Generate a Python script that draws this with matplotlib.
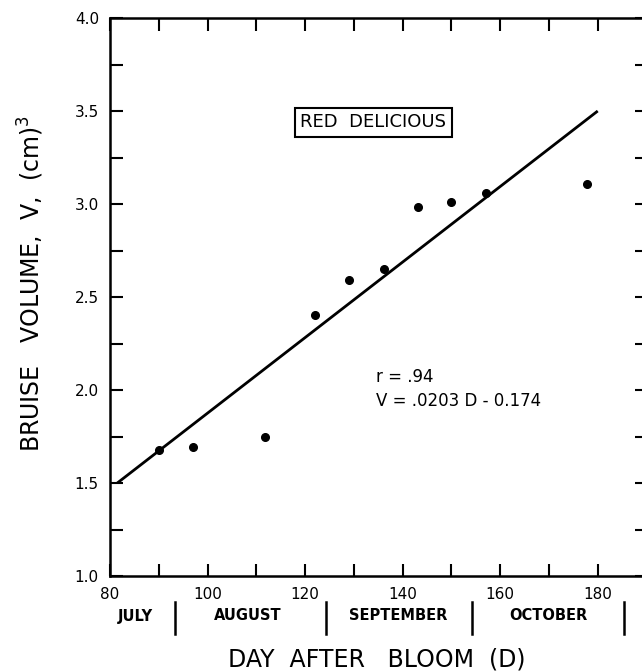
import matplotlib
matplotlib.use("Agg")
import matplotlib.pyplot as plt
import matplotlib.transforms as mtransforms
import numpy as np

# ---- data ----
days = [90.1, 97.0, 111.7, 122.0, 129.0, 136.1, 143.1, 150.0, 157.1, 177.9]
volume = [1.677, 1.695, 1.747, 2.403, 2.591, 2.649, 2.984, 3.009, 3.061, 3.108]

fit_days = [81.5, 180.0]
fit_volume = [1.50, 3.50]

x_major = [80, 100, 120, 140, 160, 180]
x_major_labels = ["80", "100", "120", "140", "160", "180"]
y_major = [1.0, 1.5, 2.0, 2.5, 3.0, 3.5, 4.0]
y_major_labels = ["1.0", "1.5", "2.0", "2.5", "3.0", "3.5", "4.0"]

months = ["JULY", "AUGUST", "SEPTEMBER", "OCTOBER"]
month_centers = [85.3, 108.2, 139.0, 169.9]
month_dividers = [93.3, 124.3, 154.3, 185.3]

variety = "RED  DELICIOUS"
r_text = "r = .94"
eq_text = "V = .0203 D - 0.174"

# ---- figure ----
W, H = 642, 671
fig = plt.figure(figsize=(W / 100, H / 100), dpi=100)
ax = fig.add_axes([110 / W, 1 - 576 / H, (646.5 - 110) / W, (576 - 18) / H])

ax.set_xlim(80, 190)
ax.set_ylim(1.0, 4.0)

ax.plot(fit_days, fit_volume, color="black", lw=2.0, solid_capstyle="butt")
ax.plot(days, volume, "o", color="black", ms=5.5)

for s in ax.spines.values():
    s.set_linewidth(1.8)

ax.set_xticks(x_major)
ax.set_xticklabels(x_major_labels)
ax.set_xticks(np.arange(90, 190, 20), minor=True)
ax.set_yticks(y_major)
ax.set_yticklabels(y_major_labels)
ax.set_yticks(np.arange(1.25, 4.0, 0.5), minor=True)

ax.tick_params(which="both", direction="in", length=9, width=1.5,
               top=True, right=True, labelsize=11, pad=8)

# annotation box
ax.text(134, 3.44, variety, fontsize=13, ha="center", va="center",
        bbox=dict(boxstyle="square,pad=0.3", fc="white", ec="black", lw=1.5))
ax.text(134.5, 2.07, r_text, fontsize=12, ha="left", va="center")
ax.text(134.5, 1.94, eq_text, fontsize=12, ha="left", va="center")

# month row below axis
trans = mtransforms.blended_transform_factory(ax.transData, fig.transFigure)
for name, c in zip(months, month_centers):
    ax.text(c, 1 - 616 / H, name, transform=trans, fontsize=10.5,
            fontweight="bold", ha="center", va="center")
for d in month_dividers:
    ax.plot([d, d], [1 - 602 / H, 1 - 634 / H], transform=trans,
            color="black", lw=1.8, clip_on=False)

fig.text(377 / W, 1 - 659 / H, "DAY  AFTER   BLOOM  (D)", fontsize=17,
         ha="center", va="center")
fig.text(31 / W, 1 - 284 / H, "BRUISE   VOLUME,  V,  (cm)$^{3}$", fontsize=17,
         rotation=90, ha="center", va="center")

fig.savefig("out.png", dpi=100)
